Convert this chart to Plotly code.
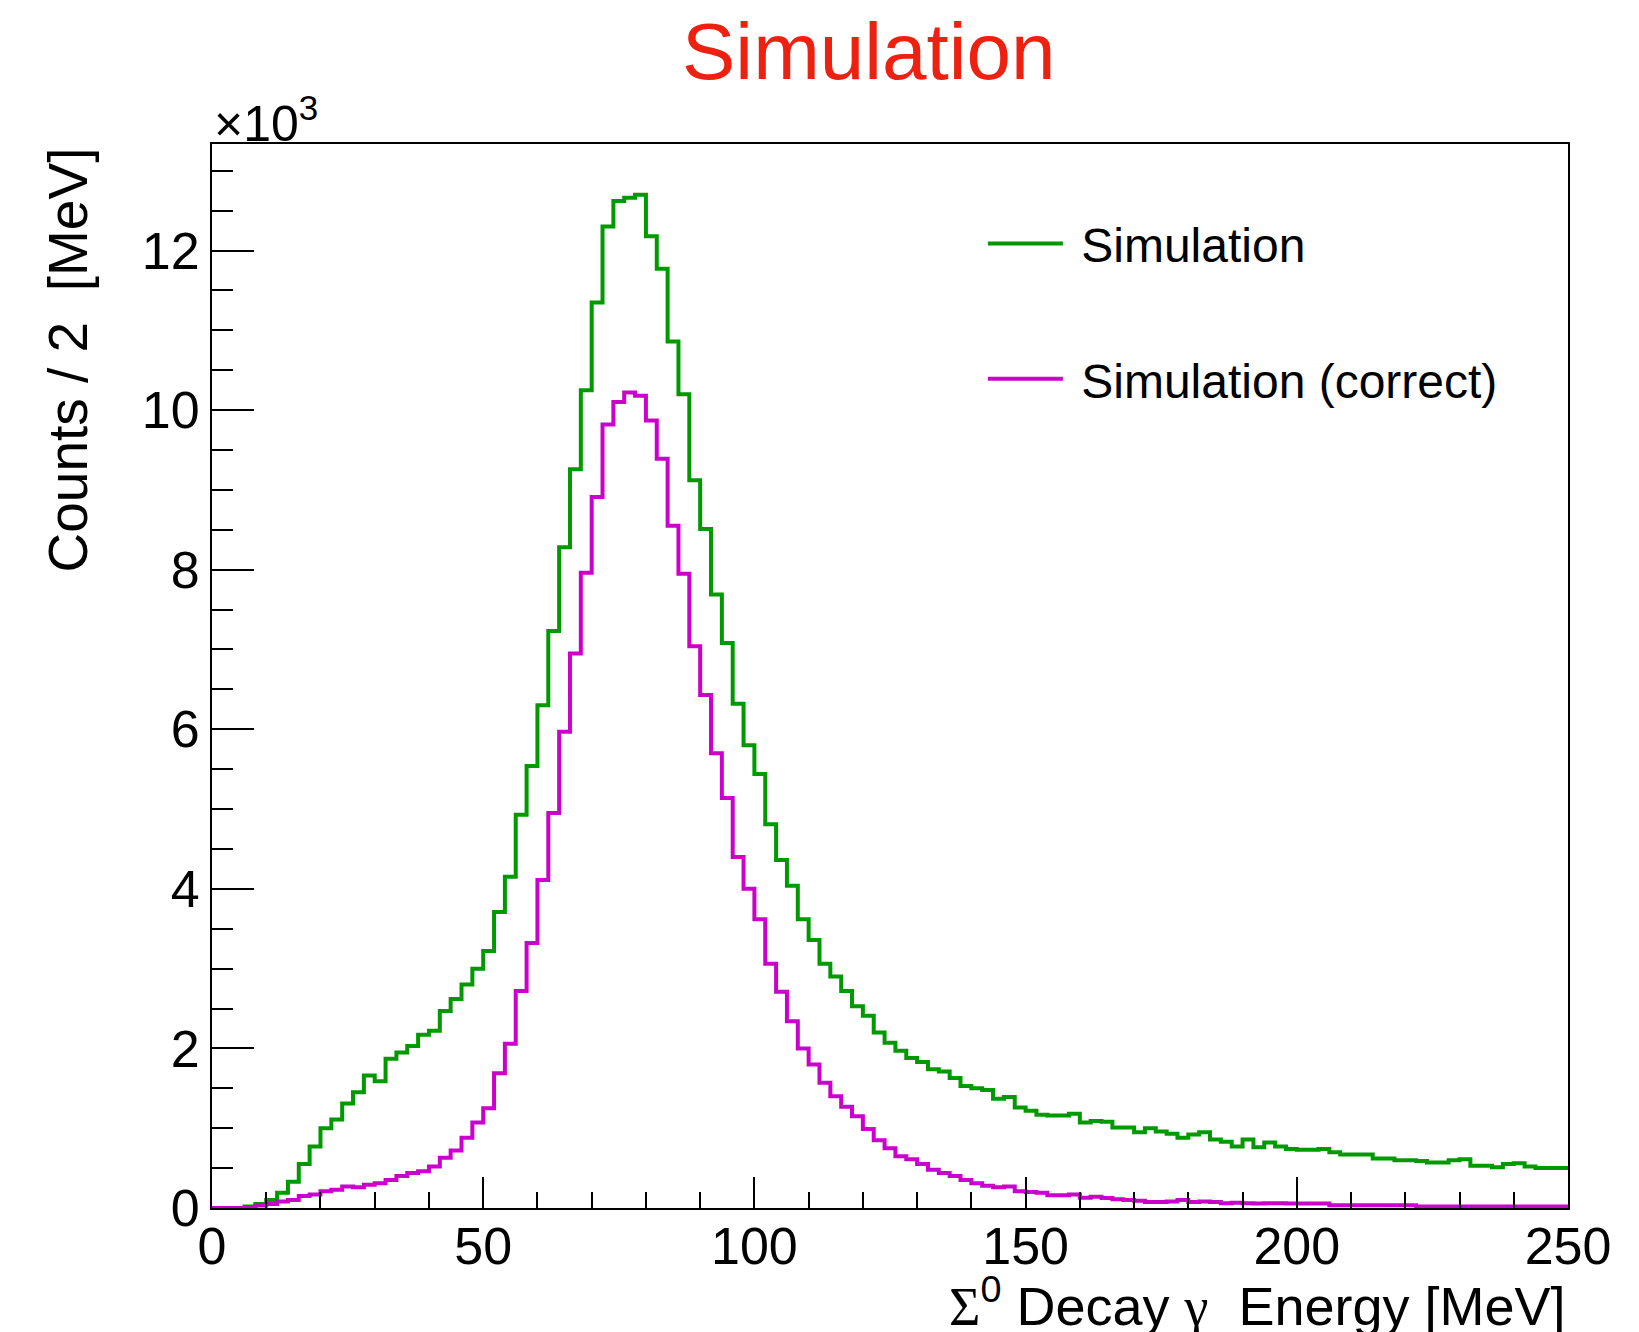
import numpy as np
import plotly.graph_objects as go

# ---------------- data (counts per 2 MeV bin, in units of 10^3) ----------------
bin_width = 2
x_min, x_max = 0, 250

sim = [0.00, 0.00, 0.00, 0.02, 0.05, 0.10, 0.19, 0.33, 0.55, 0.77,
       1.00, 1.11, 1.31, 1.45, 1.66, 1.59, 1.87, 1.95, 2.03, 2.17,
       2.22, 2.47, 2.62, 2.80, 3.00, 3.22, 3.71, 4.15, 4.93, 5.54,
       6.30, 7.23, 8.28, 9.26, 10.25, 11.35, 12.30, 12.62, 12.66, 12.70,
       12.18, 11.77, 10.86, 10.20, 9.12, 8.51, 7.69, 7.08, 6.32, 5.80,
       5.44, 4.81, 4.36, 4.04, 3.62, 3.36, 3.06, 2.90, 2.72, 2.53,
       2.41, 2.20, 2.07, 1.97, 1.88, 1.83, 1.74, 1.71, 1.63, 1.53,
       1.50, 1.48, 1.37, 1.39, 1.26, 1.22, 1.17, 1.16, 1.16, 1.18,
       1.07, 1.09, 1.08, 1.01, 1.01, 0.95, 1.00, 0.96, 0.93, 0.88,
       0.92, 0.95, 0.86, 0.83, 0.77, 0.86, 0.76, 0.82, 0.77, 0.74,
       0.73, 0.73, 0.74, 0.70, 0.67, 0.67, 0.67, 0.62, 0.62, 0.60,
       0.60, 0.59, 0.57, 0.57, 0.60, 0.61, 0.53, 0.53, 0.51, 0.55,
       0.56, 0.52, 0.50, 0.50, 0.50]

sim_correct = [0.00, 0.00, 0.00, 0.01, 0.03, 0.05, 0.08, 0.10, 0.15, 0.17,
               0.21, 0.23, 0.27, 0.26, 0.29, 0.31, 0.35, 0.40, 0.44, 0.46,
               0.52, 0.63, 0.72, 0.88, 1.07, 1.25, 1.69, 2.06, 2.72, 3.32,
               4.11, 4.95, 5.97, 6.95, 7.96, 8.91, 9.82, 10.10, 10.22, 10.18,
               9.87, 9.39, 8.55, 7.95, 7.04, 6.43, 5.70, 5.14, 4.40, 4.00,
               3.62, 3.06, 2.71, 2.34, 2.00, 1.80, 1.57, 1.40, 1.27, 1.15,
               0.99, 0.85, 0.75, 0.65, 0.61, 0.55, 0.48, 0.44, 0.40, 0.35,
               0.31, 0.28, 0.26, 0.27, 0.21, 0.20, 0.19, 0.16, 0.16, 0.17,
               0.13, 0.14, 0.125, 0.11, 0.10, 0.09, 0.075, 0.075, 0.08, 0.10,
               0.075, 0.08, 0.075, 0.06, 0.065, 0.06, 0.055, 0.06, 0.06, 0.055,
               0.055, 0.055, 0.055, 0.035, 0.035, 0.035, 0.035, 0.035, 0.035, 0.035,
               0.035, 0.02, 0.02, 0.02, 0.02, 0.02, 0.02, 0.02, 0.02, 0.02,
               0.02, 0.02, 0.02, 0.02, 0.02]

series_names = ["Simulation", "Simulation (correct)"]
series_colors = ["#009900", "#cc00cc"]

x_ticks = [0, 50, 100, 150, 200, 250]
y_ticks = [0, 2, 4, 6, 8, 10, 12]

# ---------------- figure ----------------
edges = np.arange(x_min, x_max + bin_width, bin_width)
FONT = "Liberation Sans, Arial, Helvetica, sans-serif"

fig = go.Figure()
for vals, name, col, grp in zip([sim, sim_correct], series_names, series_colors, ["a", "b"]):
    fig.add_trace(go.Scatter(
        x=edges, y=list(vals) + [vals[-1]],
        mode="lines", line=dict(shape="hv", color=col, width=4),
        name="\u00a0" + name, legendgroup=grp, hoverinfo="skip",
    ))

W, H = 1639, 1332
L, R, T, B = 212, 71, 144, 124
ymax = 1.05 * max(sim)

fig.update_layout(
    width=W, height=H,
    margin=dict(l=L, r=R, t=T, b=B, pad=0),
    paper_bgcolor="white", plot_bgcolor="white",
    font=dict(family=FONT, color="black"),
    showlegend=True,
    legend=dict(
        x=0.5685, y=0.942, xanchor="left", yanchor="top",
        font=dict(size=48, family=FONT, color="black"),
        bgcolor="rgba(0,0,0,0)", tracegroupgap=70, itemwidth=75,
    ),
    xaxis=dict(
        range=[x_min, x_max], tickvals=x_ticks, ticktext=[str(v) for v in x_ticks],
        showline=True, linecolor="black", linewidth=2, mirror=True,
        ticks="inside", ticklen=31, tickwidth=2, tickcolor="black",
        ticklabelstandoff=-8,
        minor=dict(dtick=10, tick0=0, ticks="inside", ticklen=16, tickwidth=2,
                   tickcolor="black", showgrid=False),
        showgrid=False, zeroline=False,
        tickfont=dict(size=52, family=FONT, color="black"),
    ),
    yaxis=dict(
        range=[0, ymax], tickvals=y_ticks, ticktext=[str(v) for v in y_ticks],
        showline=True, linecolor="black", linewidth=2, mirror=True,
        ticks="inside", ticklen=42, tickwidth=2, tickcolor="black",
        minor=dict(dtick=0.5, tick0=0, ticks="inside", ticklen=21, tickwidth=2,
                   tickcolor="black", showgrid=False),
        showgrid=False, zeroline=False,
        tickfont=dict(size=52, family=FONT, color="black"),
    ),
)

plot_w = W - L - R
plot_h = H - T - B

def px_x(px):
    return (px - L) / plot_w

def px_y(py):
    return (H - B - py) / plot_h

annotations = [
    dict(text="Simulation", x=px_x(869), y=px_y(52), xanchor="center", yanchor="middle",
         font=dict(size=80, color="rgb(238,32,16)", family=FONT)),
    dict(text="×10<sup>3</sup>", x=0, y=px_y(120), xanchor="left", yanchor="middle",
         font=dict(size=50, family=FONT, color="black")),
    dict(text="Counts / 2  [MeV]", textangle=-90, x=px_x(68), y=px_y(146),
         xanchor="center", yanchor="top",
         font=dict(size=55, family=FONT, color="black")),
    dict(text="<span style='font-family:Liberation Serif'>Σ</span><sup>0</sup> Decay "
              "<span style='font-family:Liberation Serif'>γ</span>  Energy [MeV]",
         x=1, y=px_y(1302), xanchor="right", yanchor="middle",
         font=dict(size=54, family=FONT, color="black")),
]
for a in annotations:
    a.update(xref="paper", yref="paper", showarrow=False)
fig.update_layout(annotations=annotations)

fig.write_html("out.html")
